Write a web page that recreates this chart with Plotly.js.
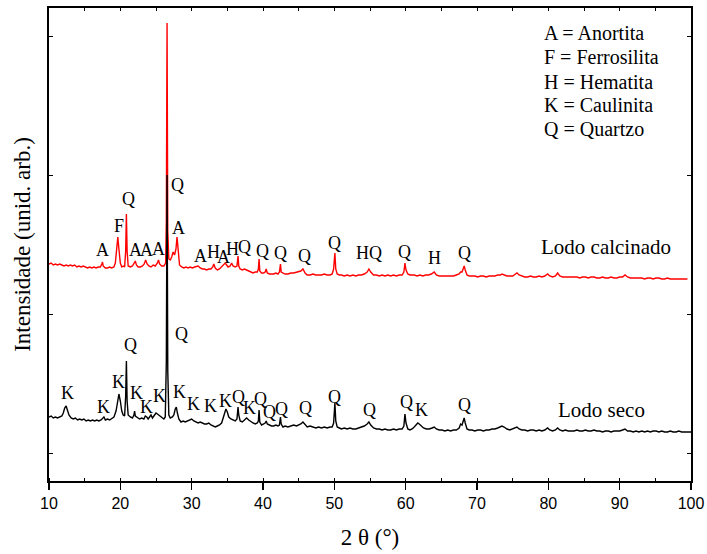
<!DOCTYPE html>
<html>
<head>
<meta charset="utf-8">
<script src="https://cdn.plot.ly/plotly-3.0.1.min.js"></script>
<style>html,body{margin:0;padding:0;background:#fff;}#chart{width:707px;height:554px;}</style>
</head>
<body>
<div id="chart"></div>
<script>
// 2θ positions and intensities (arbitrary units) for "Lodo seco"
const secoX = [10.0,10.3,10.6,10.9,11.2,11.5,11.8,12.0,12.2,12.4,12.6,12.8,13.1,13.4,13.7,14.0,14.3,14.6,14.9,15.2,15.5,15.8,16.1,16.4,16.7,17.0,17.3,17.5,17.7,17.9,18.2,18.5,18.8,19.1,19.4,19.6,19.8,20.0,20.2,20.4,20.6,20.75,20.85,20.95,21.1,21.4,21.7,21.9,22.0,22.1,22.4,22.7,23.0,23.3,23.5,23.7,23.9,24.1,24.3,24.5,24.8,25.0,25.2,25.5,25.8,26.1,26.3,26.45,26.55,26.65,26.8,27.0,27.3,27.5,27.7,27.85,28.0,28.2,28.5,28.8,29.1,29.4,29.7,30.0,30.3,30.6,30.9,31.2,31.5,31.8,32.1,32.4,32.7,33.0,33.3,33.6,33.9,34.2,34.5,34.8,35.0,35.2,35.5,35.8,36.1,36.35,36.5,36.6,36.8,37.1,37.4,37.7,38.0,38.3,38.6,38.9,39.2,39.35,39.45,39.55,39.8,40.1,40.3,40.45,40.6,40.9,41.2,41.5,41.8,42.1,42.3,42.45,42.55,42.8,43.1,43.5,43.9,44.3,44.7,45.0,45.3,45.6,45.9,46.2,46.6,47.0,47.4,47.8,48.2,48.6,49.0,49.4,49.7,49.9,50.0,50.08,50.2,50.4,50.7,51.0,51.4,51.8,52.2,52.6,53.0,53.4,53.8,54.2,54.6,54.85,55.1,55.5,55.9,56.3,56.7,57.1,57.5,57.9,58.3,58.7,59.1,59.5,59.75,59.9,60.05,60.3,60.6,60.9,61.2,61.5,61.7,61.9,62.2,62.5,62.9,63.3,63.7,64.0,64.3,64.7,65.1,65.5,65.9,66.3,66.7,67.1,67.5,67.7,67.9,68.1,68.2,68.35,68.6,68.9,69.3,69.7,70.1,70.5,70.9,71.3,71.7,72.1,72.5,72.9,73.3,73.5,73.8,74.2,74.6,75.0,75.4,75.6,75.9,76.3,76.7,77.1,77.5,77.9,78.3,78.7,79.1,79.5,79.9,80.2,80.6,81.0,81.3,81.6,82.0,82.4,82.8,83.2,83.6,84.0,84.4,84.8,85.2,85.6,86.0,86.4,86.8,87.2,87.6,88.0,88.4,88.8,89.2,89.6,90.0,90.4,90.75,91.1,91.5,91.9,92.3,92.7,93.1,93.5,93.9,94.3,94.7,95.1,95.5,95.9,96.3,96.7,97.1,97.5,97.9,98.3,98.7,99.1,99.5,100.0];
const secoY = [64,65,63,64,63,64,65,68,73,75,71,66,63,62,63,61,62,61,62,60,61,60,61,60,61,60,61,63,64,61,62,61,63,64,70,80,87,80,70,66,65,85,120,80,66,64,63,66,70,65,63,62,63,62,65,64,62,64,66,63,66,68,67,65,63,62,64,120,306,110,66,63,64,66,72,74,68,62,59,60,59,60,61,62,60,59,58,59,58,57,57,58,56,55,54,55,56,58,65,72,69,64,62,61,60,62,74,66,60,59,61,63,61,59,58,57,58,60,71,59,56,57,58,60,57,56,55,55,56,55,56,64,57,54,55,54,55,56,55,56,57,59,56,54,55,54,53,54,53,54,53,54,54,58,70,78,60,54,53,52,53,52,53,52,52,53,54,55,57,59,56,53,52,52,51,52,51,51,52,51,52,52,55,67,58,52,51,52,54,57,58,57,55,53,52,52,53,54,52,51,51,50,51,50,51,51,53,57,56,60,63,58,52,51,51,50,51,51,50,51,51,52,52,53,54,55,54,52,51,52,53,54,52,51,51,50,51,51,50,51,50,51,53,51,50,51,53,51,50,51,50,50,50,51,50,50,51,50,50,51,50,50,49,50,50,49,50,50,50,51,52,50,50,49,50,49,50,49,50,49,50,50,49,50,49,49,50,49,49,50,49,49,49,49];

// "Lodo calcinado"
const calcX = [10.0,10.3,10.6,10.9,11.2,11.5,11.8,12.1,12.4,12.7,13.0,13.3,13.6,13.9,14.2,14.5,14.8,15.1,15.4,15.7,16.0,16.3,16.6,16.9,17.2,17.4,17.5,17.6,17.9,18.2,18.5,18.8,19.1,19.3,19.5,19.65,19.8,20.0,20.2,20.4,20.6,20.75,20.85,20.95,21.1,21.4,21.7,21.95,22.1,22.25,22.5,22.8,23.1,23.35,23.55,23.75,24.0,24.3,24.6,24.9,25.2,25.35,25.5,25.8,26.1,26.35,26.45,26.55,26.65,26.8,27.0,27.2,27.4,27.6,27.8,27.95,28.1,28.3,28.6,28.9,29.2,29.5,29.8,30.1,30.4,30.7,30.9,31.2,31.5,31.8,32.1,32.4,32.7,32.95,33.1,33.3,33.6,33.9,34.2,34.5,34.7,34.9,35.1,35.4,35.6,35.8,36.1,36.35,36.5,36.6,36.8,37.1,37.4,37.7,38.0,38.3,38.6,38.9,39.2,39.35,39.45,39.55,39.8,40.1,40.3,40.45,40.6,40.9,41.2,41.5,41.8,42.1,42.3,42.45,42.55,42.8,43.1,43.5,43.9,44.3,44.7,45.0,45.3,45.6,45.9,46.2,46.6,47.0,47.4,47.8,48.2,48.6,49.0,49.4,49.7,49.9,50.0,50.08,50.2,50.4,50.7,51.0,51.4,51.8,52.2,52.6,53.0,53.4,53.8,54.2,54.6,54.85,55.1,55.5,55.9,56.3,56.7,57.1,57.5,57.9,58.3,58.7,59.1,59.5,59.75,59.9,60.05,60.3,60.6,60.9,61.2,61.6,62.0,62.4,62.8,63.2,63.6,64.0,64.3,64.7,65.1,65.5,65.9,66.3,66.7,67.1,67.5,67.7,67.9,68.1,68.2,68.35,68.6,68.9,69.3,69.7,70.1,70.5,70.9,71.3,71.7,72.1,72.5,72.9,73.3,73.5,73.8,74.2,74.6,75.0,75.4,75.6,75.9,76.3,76.7,77.1,77.5,77.9,78.3,78.7,79.1,79.5,79.9,80.2,80.6,81.0,81.3,81.6,82.0,82.4,82.8,83.2,83.6,84.0,84.4,84.8,85.2,85.6,86.0,86.4,86.8,87.2,87.6,88.0,88.4,88.8,89.2,89.6,90.0,90.4,90.75,91.1,91.5,91.9,92.3,92.7,93.1,93.5,93.9,94.3,94.7,95.1,95.5,95.9,96.3,96.7,97.1,97.5,97.9,98.3,98.7,99.1,99.5,100.0];
const calcY = [217,218,216,217,216,217,216,215,216,215,216,215,216,214,215,214,215,214,213,214,213,214,213,214,214,217,219,215,213,213,214,213,214,218,232,244,232,218,214,215,214,230,267,230,215,214,215,218,220,216,214,214,215,217,221,217,215,214,216,215,218,221,217,215,215,218,260,458,250,222,221,224,229,226,232,244,228,216,214,213,214,213,214,213,214,215,215,213,212,212,211,212,212,214,217,213,211,212,214,217,218,216,214,215,218,215,214,215,225,215,212,211,212,211,210,209,208,209,209,212,222,210,208,208,209,212,208,207,207,207,208,207,209,217,209,208,207,207,208,208,209,209,210,212,208,206,206,207,206,206,206,207,206,206,207,212,222,228,212,207,206,206,205,206,205,206,205,206,206,207,209,212,209,206,206,205,206,205,206,205,206,205,206,206,209,218,211,207,206,206,206,205,206,205,206,206,207,209,206,205,205,205,205,205,205,206,207,209,209,213,215,211,206,205,205,205,204,205,205,204,205,205,205,206,206,207,206,205,205,205,207,208,206,205,204,204,205,204,204,205,204,205,207,205,204,205,208,205,204,204,204,204,204,204,203,204,204,203,204,204,203,203,204,203,203,204,203,203,204,204,206,204,203,203,203,203,203,202,203,203,202,203,203,202,202,203,202,202,202,202,202,202,202];

// Phase labels: text, 2θ, height
const calcLabels = ["A","F","Q","A","A","A","Q","A","A","H","A","H","Q","Q","Q","Q","Q","HQ","Q","H","Q"];
const calcLabelX = [17.5,19.8,21.1,22.15,23.7,25.4,28.05,28.2,31.2,33.0,34.4,35.7,37.35,39.95,42.4,45.8,50.0,54.8,59.9,64.1,68.2];
const calcLabelY = [231,255,282,231,231,232,296,253,225,229,224,232,234,230,228,225,238,228,229,223,228];

const secoLabels = ["K","K","K","Q","K","K","K","Q","K","K","K","K","Q","K","Q","Q","Q","Q","Q","Q","Q","K","Q"];
const secoLabelX = [12.6,17.7,19.8,21.45,22.2,23.7,25.5,28.55,28.3,30.3,32.6,34.8,36.6,38.1,39.6,40.9,42.6,46.0,50.05,54.9,60.05,62.25,68.2];
const secoLabelY = [88,74,99,136,88,74,85,147,89,77,75,80,84,73,82,69,72,73,84,71,79,71,76];

const seriesNames = ["Lodo calcinado","Lodo seco"];
const seriesNameX = [88.1,87.5];
const seriesNameY = [234,71];

const keyLines = ["A = Anortita","F = Ferrosilita","H = Hematita","K = Caulinita","Q = Quartzo"];
const keyX = 79.07;
const keyY = [448.3,423.7,399.3,376,351.7];

const SERIF = "Liberation Serif";
const SANS = "Liberation Sans";
const annotations = [];
function addLabel(t, x, y, size, anchor) {
  annotations.push({text: t, x: x, y: y, xref: 'x', yref: 'y', showarrow: false,
    xanchor: anchor || 'center', yanchor: 'middle',
    font: {family: SERIF, size: size, color: '#000'}});
}
calcLabels.forEach((t, i) => addLabel(t, calcLabelX[i], calcLabelY[i], 18));
secoLabels.forEach((t, i) => addLabel(t, secoLabelX[i], secoLabelY[i], 18));
seriesNames.forEach((t, i) => addLabel(t, seriesNameX[i], seriesNameY[i], 21));
keyLines.forEach((t, i) => addLabel(t, keyX, keyY[i], 20, 'left'));

const traces = [
  {x: calcX, y: calcY, type: 'scatter', mode: 'lines', name: seriesNames[0],
   line: {color: '#ff0000', width: 1.4}},
  {x: secoX, y: secoY, type: 'scatter', mode: 'lines', name: seriesNames[1],
   line: {color: '#000000', width: 1.4}},
  {x: [10, 100], y: [null, null], xaxis: 'x2', type: 'scatter', mode: 'lines', showlegend: false, hoverinfo: 'skip'}
];

const layout = {
  width: 707, height: 554,
  margin: {l: 49, r: 16, t: 8, b: 73},
  paper_bgcolor: '#fff', plot_bgcolor: '#fff',
  showlegend: false,
  font: {family: SERIF, color: '#000'},
  xaxis: {
    range: [10, 100], dtick: 10, tick0: 10,
    ticks: 'outside', ticklen: 7, tickwidth: 1.5, tickcolor: '#000',
    minor: {dtick: 5, ticks: 'inside', ticklen: 3, tickwidth: 1, tickcolor: '#000'},
    showline: true, linewidth: 2, linecolor: '#000', mirror: true,
    showgrid: false, zeroline: false,
    tickfont: {family: SANS, size: 16, color: '#000'},
    title: {text: '2 θ (°)', font: {family: SERIF, size: 23, color: '#000'}, standoff: 18}
  },
  xaxis2: {
    overlaying: 'x', side: 'top', range: [10, 100], dtick: 5, tick0: 10,
    ticks: 'inside', ticklen: 3, tickwidth: 1, tickcolor: '#000',
    showticklabels: false, showgrid: false, zeroline: false, showline: false
  },
  yaxis: {
    range: [0, 473], tick0: 28, dtick: 139,
    ticks: 'inside', ticklen: 4, tickwidth: 1, tickcolor: '#000',
    showticklabels: false,
    showline: true, linewidth: 2, linecolor: '#000', mirror: 'ticks',
    showgrid: false, zeroline: false,
    title: {text: 'Intensidade (unid. arb.)', font: {family: SERIF, size: 23, color: '#000'}, standoff: 10}
  },
  annotations: annotations
};

Plotly.newPlot('chart', traces, layout, {displayModeBar: false, staticPlot: true});
</script>
</body>
</html>
